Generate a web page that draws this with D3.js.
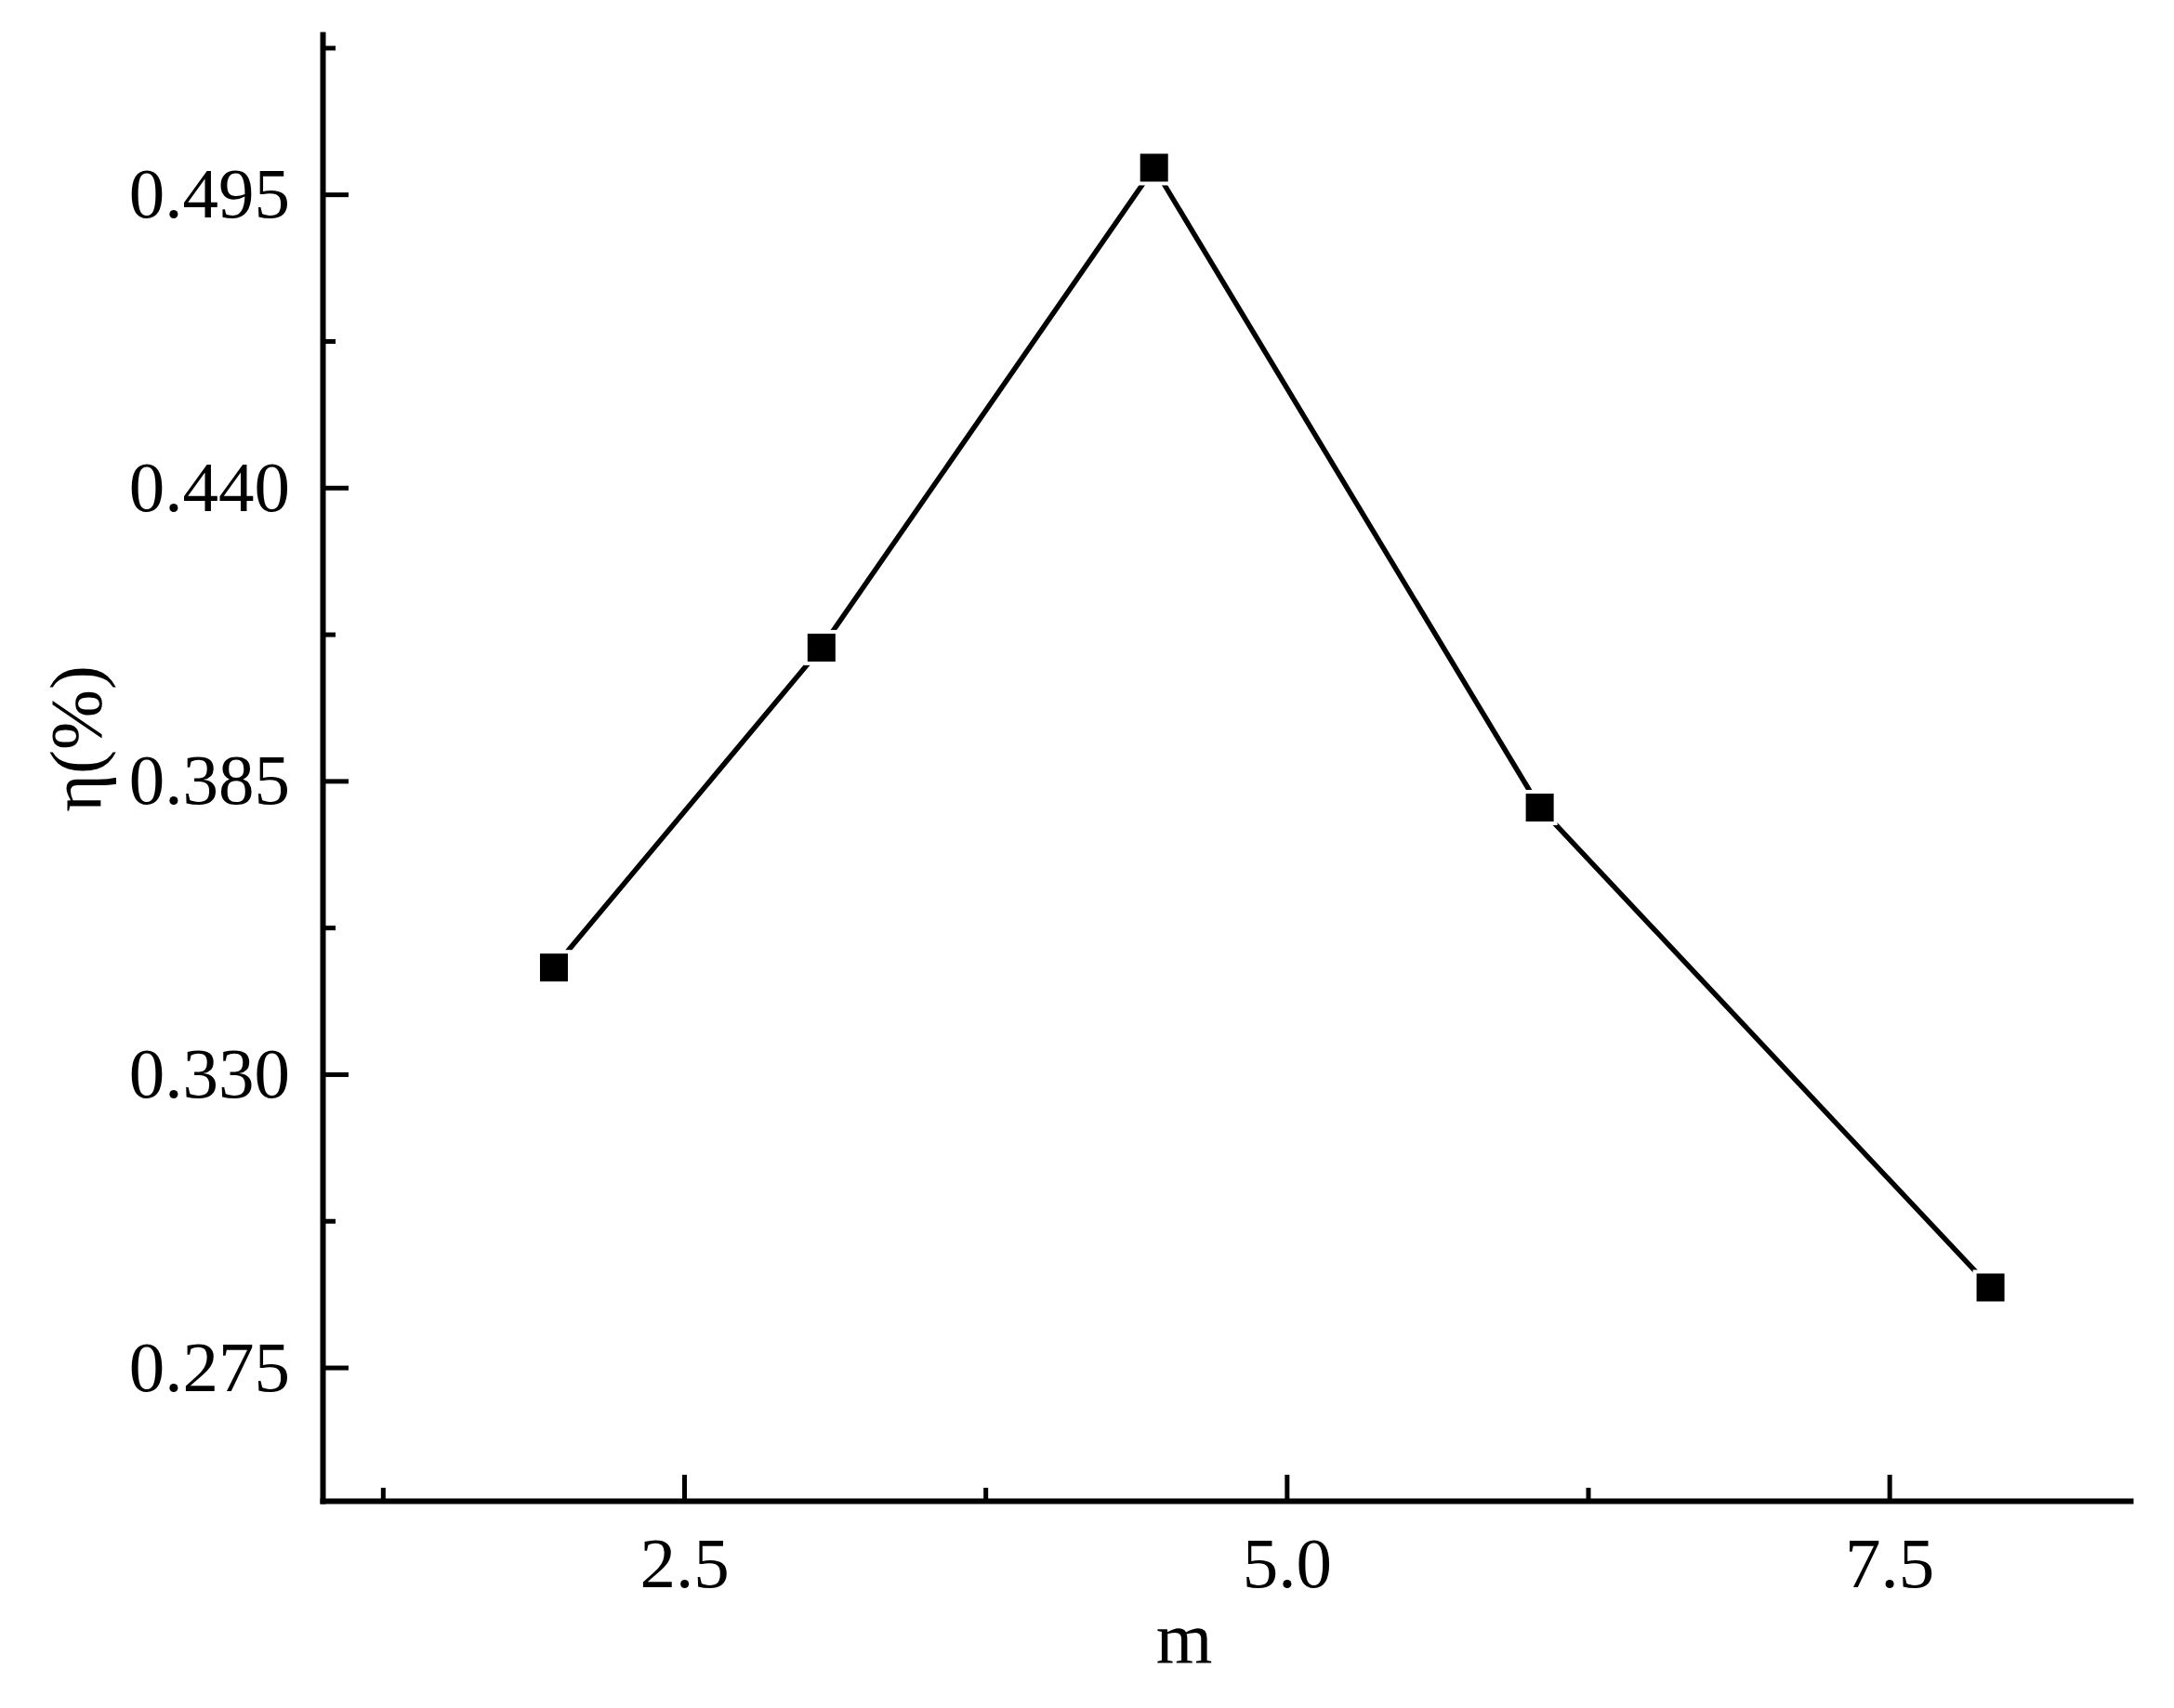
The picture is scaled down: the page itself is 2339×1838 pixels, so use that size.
<!DOCTYPE html>
<html>
<head>
<meta charset="utf-8">
<script src="https://cdn.jsdelivr.net/npm/d3@7"></script>
<style>
  body { margin: 0; background: #fff; }
  text { font-family: "Liberation Serif", "Times New Roman", serif; }
</style>
</head>
<body>
<div id="chart"></div>
<script>
// values
const mValues = [1.96, 3.07, 4.45, 6.05, 7.92];
const etaValues = [0.350, 0.410, 0.500, 0.380, 0.290];
const xTicks = [2.5, 5.0, 7.5];
const xMinorTicks = [1.25, 3.75, 6.25];
const yTicks = [0.275, 0.330, 0.385, 0.440, 0.495];
const yMinorTicks = [0.3025, 0.3575, 0.4125, 0.4675, 0.5225];

const width = 2339, height = 1838;
const margin = {top: 37, right: 47, bottom: 223, left: 347};

const data = mValues.map((m, i) => ({m: m, eta: etaValues[i]}));

const svg = d3.select("#chart")
  .append("svg")
  .attr("width", width)
  .attr("height", height);

let x = d3.scaleLinear()
  .domain([1, 8.5])
  .range([margin.left, width - margin.right]);

let y = d3.scaleLinear()
  .domain([0.25, 0.525])
  .range([height - margin.bottom, margin.top]);

let styleAxis = g => {
  g.selectAll("text").attr("font-size", "77px").attr("fill", "#000")
    .style("font-family", '"Liberation Serif", serif');
  g.selectAll(".tick line").attr("stroke", "#000").attr("stroke-width", 5);
  g.select(".domain").attr("stroke", "#000").attr("stroke-width", 6)
    .attr("stroke-linecap", "square");
};

// minor ticks first, under the main axes
svg.append("g")
  .attr("transform", `translate(0,${height - margin.bottom})`)
  .call(d3.axisBottom(x).tickValues(xMinorTicks).tickSize(-14).tickSizeOuter(0).tickFormat(""))
  .call(styleAxis)
  .call(g => g.select(".domain").remove());

svg.append("g")
  .attr("transform", `translate(${margin.left},0)`)
  .call(d3.axisLeft(y).tickValues(yMinorTicks).tickSize(-14).tickSizeOuter(0).tickFormat(""))
  .call(styleAxis)
  .call(g => g.select(".domain").remove());

svg.append("g")
  .attr("transform", `translate(0,${height - margin.bottom})`)
  .call(d3.axisBottom(x).tickValues(xTicks).tickSize(-28).tickSizeOuter(0)
    .tickPadding(38).tickFormat(d3.format(".1f")))
  .call(styleAxis);

svg.append("g")
  .attr("transform", `translate(${margin.left},0)`)
  .call(d3.axisLeft(y).tickValues(yTicks).tickSize(-28).tickSizeOuter(0)
    .tickPadding(35).tickFormat(d3.format(".3f")))
  .call(styleAxis);

// axis titles
svg.append("text")
  .attr("x", 1274)
  .attr("y", 1789)
  .attr("text-anchor", "middle")
  .attr("font-size", "78px")
  .text("m");

svg.append("text")
  .attr("transform", "translate(108,795) rotate(-90)")
  .attr("text-anchor", "middle")
  .attr("font-size", "78px")
  .text("η(%)");

// line
let line = d3.line()
  .x(d => x(d.m))
  .y(d => y(d.eta));

svg.append("path")
  .datum(data)
  .attr("fill", "none")
  .attr("stroke", "#000")
  .attr("stroke-width", 5.5)
  .attr("d", line);

// small white halo so the line stops short of each marker
svg.append("g")
  .selectAll("rect")
  .data(data)
  .enter().append("rect")
    .attr("x", d => x(d.m) - 19)
    .attr("y", d => y(d.eta) - 19)
    .attr("width", 38)
    .attr("height", 38)
    .attr("fill", "#fff");

svg.append("g")
  .selectAll("rect")
  .data(data)
  .enter().append("rect")
    .attr("x", d => x(d.m) - 15)
    .attr("y", d => y(d.eta) - 15)
    .attr("width", 30)
    .attr("height", 30)
    .attr("fill", "#000");
</script>
</body>
</html>
